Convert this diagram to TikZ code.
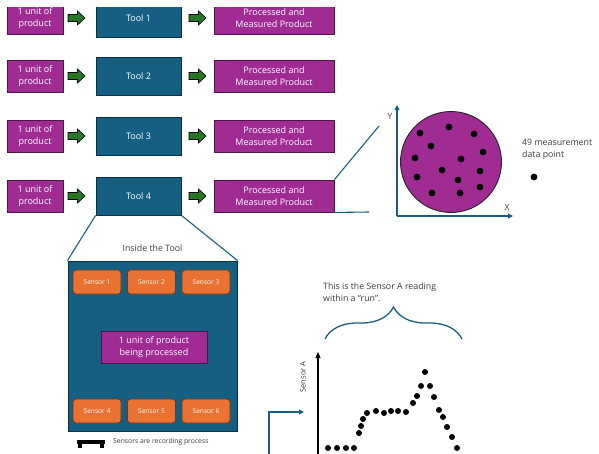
\documentclass[tikz,border=0pt]{standalone}
\usepackage{fontspec}
\setmainfont{Open Sans}
\usetikzlibrary{decorations.pathreplacing,arrows.meta}
\definecolor{purp}{RGB}{160,43,147}
\definecolor{purpb}{RGB}{80,20,75}
\definecolor{toolc}{RGB}{21,96,130}
\definecolor{toolb}{RGB}{12,48,66}
\definecolor{orng}{RGB}{233,113,50}
\definecolor{orngb}{RGB}{120,55,20}
\definecolor{garr}{RGB}{38,118,38}
\definecolor{txtg}{RGB}{60,60,60}
\newcommand{\fs}[1]{\fontsize{#1}{\fpeval{#1*1.3}}\selectfont}
\begin{document}
\begin{tikzpicture}[x=1pt,y=-1pt,
  prod/.style={draw=purpb, fill=purp, text=white, minimum width=56pt, minimum height=32pt, align=center, font=\fs{9}, line width=0.9pt, inner sep=0pt},
  tool/.style={draw=toolb, fill=toolc, text=white, minimum width=85pt, minimum height=38pt, align=center, font=\fs{9}, line width=0.9pt, inner sep=0pt},
  proc/.style={draw=purpb, fill=purp, text=white, minimum width=120pt, minimum height=32pt, align=center, font=\fs{9}, line width=0.9pt, inner sep=0pt},
  sens/.style={draw=orngb, fill=orng, text=white, minimum width=48pt, minimum height=24pt, rounded corners=3pt, font=\fs{6.6}, line width=0.9pt, inner sep=0pt},
  garrow/.style={draw=black, fill=garr, line width=0.6pt},
  tline/.style={draw=toolc, line width=1.1pt},
  dotc/.style={fill=black},
  lbl/.style={text=txtg, align=left, inner sep=0pt}
]
\useasboundingbox (0,0) rectangle (599,453);

% rows
\foreach \r/\y in {1/18,2/76,3/136,4/196}{
  \node[prod] (u\r) at (35,\y) {1 unit of\\product};
  \node[tool] (t\r) at (138.5,\y) {Tool \r};
  \node[proc] (p\r) at (274,\y) {Processed and\\Measured Product};
  \foreach \x in {68,189}{
    \draw[garrow] (\x,\y-3.5) -- ++(9.5,0) -- ++(0,-3.5) -- ++(7.5,7) -- ++(-7.5,7) -- ++(0,-3.5) -- ++(-9.5,0) -- cycle;
  }
}
\fill[white] (0,0) rectangle (599,7);

% callout from tool 4
\node[draw=toolb, fill=toolc, line width=1pt, minimum width=169pt, minimum height=170pt, inner sep=0pt] (inside) at (152.5,346) {};
\node[lbl, font=\fs{8.8}] (insl) at (152.5,248) {Inside the Tool};
\draw[tline] (t4.south west) -- (inside.north west);
\draw[tline] (t4.south east) -- (inside.north east);

\node[sens] (s1) at (97,282) {Sensor 1};
\node[sens] (s2) at (151.5,282) {Sensor 2};
\node[sens] (s3) at (206,282) {Sensor 3};
\node[sens] (s4) at (97,411) {Sensor 4};
\node[sens] (s5) at (151.5,411) {Sensor 5};
\node[sens] (s6) at (206,411) {Sensor 6};
\node[draw=purpb, fill=purp, text=white, minimum width=106pt, minimum height=32pt, align=center, font=\fs{9}, line width=0.9pt, inner sep=0pt] (bp) at (154,347) {1 unit of product\\being processed};

% legend
\fill[black] (77,440) rectangle (105,443.5);
\fill[black] (78,443) rectangle (82,448);
\fill[black] (100,443) rectangle (104,448);
\node[lbl, font=\fs{6.8}, anchor=west] (legt) at (113,442) {Sensors are recording process};

% circle plot
\coordinate (org) at (397,216);
\coordinate (ytop) at (397,105);
\coordinate (xend) at (513,216);
\draw[tline, -{Triangle[length=5pt,width=5pt]}] (org) -- (ytop);
\draw[tline, -{Triangle[length=5pt,width=5pt]}] (org) -- (xend);
\node[lbl, font=\fs{8.5}] (yl) at (390,116) {Y};
\node[lbl, font=\fs{8.5}] (xl) at (507,207) {X};
\node[draw=black!85, fill=purp, circle, minimum size=101pt, line width=0.9pt, inner sep=0pt] (wafer) at (451,162) {};
\foreach \x/\y in {420/133,449/127,474/134,431/146,483/152,415/158,461/159,442/170,480/171,417/177,458/180,432/193,460/193,480/187}{
  \fill[dotc] (\x,\y) circle (3.4pt);
}
\coordinate (ca) at (379,126);
\coordinate (cb) at (369,212);
\draw[tline] (p4.north east) -- (ca);
\draw[tline] (p4.south east) -- (cb);
\node[lbl, font=\fs{8.8}, anchor=north west] (meas) at (522,139) {49 measurement\\data point};
\fill[dotc] (534,177) circle (3.4pt);

% sensor A plot
\node[lbl, font=\fs{8.8}, anchor=north west] (runl) at (323,283) {This is the Sensor A reading\\within a “run”.};
\coordinate (bl) at (325,339);
\coordinate (br) at (462,339);
\draw[draw=toolc, line width=1.3pt, decorate, decoration={brace, amplitude=32pt}] (bl) -- (br);
\coordinate (sa0) at (318,455);
\coordinate (sa1) at (318,352);
\draw[line width=1.1pt, -{Triangle[length=6pt,width=5pt]}] (sa0) -- (sa1);
\node[lbl, font=\fs{7.5}, rotate=90] (sal) at (303,377) {Sensor A};
\coordinate (la) at (269,455);
\coordinate (lb) at (269,412);
\coordinate (lc) at (304,412);
\draw[tline, -{Triangle[length=5pt,width=5pt]}] (la) -- (lb) -- (lc);
\foreach \x/\y in {328/448,337/448,346/448,354/448,359/433,361/426,363/419,367/413,376/411,384/413,391/411,398/411,406/412,413/403,417/396,421/386,425/372,430/386,434/397,439/410,443/417,447/427,452/437,457/448}{
  \fill[dotc] (\x,\y) circle (3pt);
}
\end{tikzpicture}
\end{document}
